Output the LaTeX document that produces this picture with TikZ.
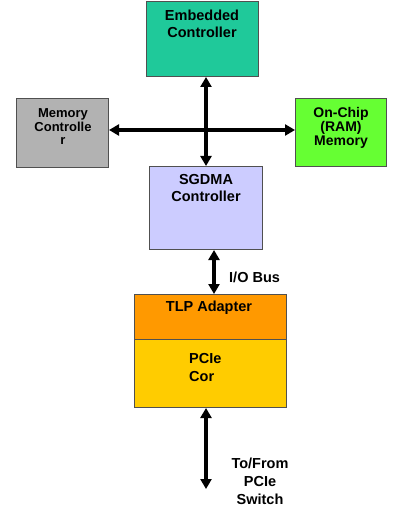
\documentclass[tikz,border=0pt]{standalone}
\usepackage{fontspec}
\setmainfont{Liberation Sans}
\usetikzlibrary{arrows.meta}
\definecolor{ecfill}{HTML}{1FC99A}
\definecolor{mcfill}{HTML}{B2B2B2}
\definecolor{ocfill}{HTML}{66FF33}
\definecolor{sgfill}{HTML}{CCCCFF}
\definecolor{tlpfill}{HTML}{FF9900}
\definecolor{corefill}{HTML}{FFCC00}
\definecolor{edge}{HTML}{505050}
\begin{document}
\begin{tikzpicture}[x=1pt,y=-1pt,
  box/.style={draw=edge, line width=1pt, inner sep=0pt, anchor=north west},
  big/.style={font=\fontsize{14.5}{16.5}\selectfont\bfseries, align=center, inner sep=0pt},
  small/.style={font=\fontsize{13}{13.5}\selectfont\bfseries, align=center, inner sep=0pt},
  mid/.style={font=\fontsize{14}{14}\selectfont\bfseries, align=center, inner sep=0pt},
  lbl/.style={font=\fontsize{14.5}{18}\selectfont\bfseries, align=center, inner sep=0pt},
  arr/.style={{Triangle[width=11pt,length=10pt]}-{Triangle[width=11pt,length=10pt]}, line width=3.5pt}]
\useasboundingbox (0,0) rectangle (400,521);
% boxes
\node[box, fill=ecfill, minimum width=112pt, minimum height=75pt] (ec) at (146,1) {};
\node[box, fill=mcfill, minimum width=92pt, minimum height=69pt] (mc) at (16,98) {};
\node[box, fill=ocfill, minimum width=91pt, minimum height=68pt] (oc) at (295,98) {};
\node[box, fill=sgfill, minimum width=113pt, minimum height=83pt] (sg) at (149,166) {};
\node[box, fill=tlpfill, minimum width=152pt, minimum height=45pt] (tlp) at (134,294) {};
\node[box, fill=corefill, minimum width=152pt, minimum height=68pt] (core) at (134,339) {};
% texts
\node[big] (ect) at (202,24) {Embedded\\Controller};
\node[small] (mct) at (63,127) {Memory\\Controlle\\r};
\node[mid] (oct) at (341,128) {On-Chip\\(RAM)\\Memory};
\node[big] (sgt) at (206,188) {SGDMA\\Controller};
\node[big] (tlpt) at (209,308) {TLP Adapter};
\node[lbl, align=left, anchor=north west] (coret) at (189,353) {PCIe\\Cor};
\node[lbl, anchor=west] (iot) at (229,277) {I/O Bus};
\node[lbl] (swt) at (260,481) {To/From\\PCIe\\Switch};
% connectors
\coordinate (io) at (214,0);
\coordinate (cx) at (206,0);
\coordinate (hy) at (0,130);
\coordinate (sw) at (206,489);
\draw[arr] (ec.south -| sg.north) -- (sg.north);
\draw[arr] (mc.east |- hy) -- (oc.west |- hy);
\draw[arr] (sg.south -| io) -- (tlp.north -| io);
\draw[arr] (core.south -| cx) -- (sw);
\end{tikzpicture}
\end{document}
